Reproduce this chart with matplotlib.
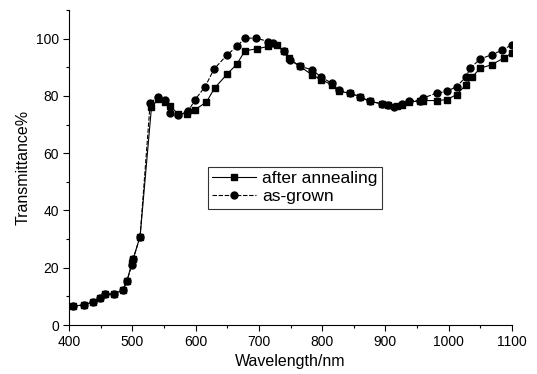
import matplotlib
matplotlib.use("Agg")
import matplotlib.pyplot as plt
from matplotlib.ticker import MultipleLocator

plt.rcParams['font.family'] = ['Liberation Sans', 'DejaVu Sans']

# after annealing (squares)
wl_a = [406, 423, 438, 449, 457, 470, 485, 491, 499, 501, 512, 530, 541, 551, 559,
        572, 586, 599, 617, 630, 650, 665, 678, 697, 715, 728, 739, 747, 765, 784,
        799, 815, 826, 844, 860, 876, 894, 905, 918, 926, 937, 955, 960, 981, 997,
        1013, 1028, 1037, 1050, 1068, 1087, 1100]
val_a = [6.6, 7.0, 8.1, 9.3, 10.8, 10.8, 12.2, 15.2, 21.6, 23.0, 30.9, 76.0, 79.0, 78.0, 76.5,
         73.8, 73.8, 75.2, 77.9, 82.8, 87.7, 91.1, 95.8, 96.5, 97.3, 97.7, 95.6, 93.2, 90.3, 87.4,
         85.7, 83.9, 81.6, 81.0, 79.8, 78.1, 77.3, 76.9, 76.6, 77.0, 78.0, 78.2, 78.4, 78.4, 78.7,
         80.5, 84.0, 86.5, 89.7, 90.9, 93.2, 95.0]

# as-grown (circles)
wl_g = [406, 423, 438, 449, 457, 470, 485, 491, 499, 501, 512, 528, 541, 552, 560,
        572, 588, 599, 615, 629, 649, 665, 678, 696, 715, 723, 739, 749, 765, 784,
        799, 815, 826, 844, 860, 876, 894, 905, 913, 926, 937, 955, 960, 981, 997,
        1013, 1028, 1034, 1050, 1068, 1084, 1100]
val_g = [6.6, 7.0, 8.1, 9.3, 10.8, 10.8, 12.2, 15.2, 21.0, 23.0, 30.9, 77.6, 79.8, 78.7, 74.0,
         73.3, 74.6, 78.7, 83.3, 89.4, 94.2, 97.3, 100.2, 100.2, 99.0, 98.5, 95.6, 92.7, 90.3, 89.2,
         86.5, 84.5, 82.0, 81.0, 79.5, 78.1, 77.3, 76.9, 76.3, 77.3, 78.4, 78.4, 79.3, 81.0, 81.6,
         83.3, 86.8, 89.7, 92.9, 94.4, 95.9, 97.9]

fig = plt.figure(figsize=(5.37, 3.74), dpi=100)
ax = fig.add_axes([0.129, 0.131, 0.824, 0.842])

ax.plot(wl_a, val_a, color='black', marker='s', markersize=4.5, linewidth=0.8,
        label='after annealing')
ax.plot(wl_g, val_g, color='black', marker='o', markersize=5, linewidth=0.8,
        linestyle=(0, (4, 1.5)), label='as-grown')

ax.set_xlim(400, 1100)
ax.set_ylim(0, 110)
ax.xaxis.set_major_locator(MultipleLocator(100))
ax.xaxis.set_minor_locator(MultipleLocator(50))
ax.yaxis.set_major_locator(MultipleLocator(20))
ax.yaxis.set_minor_locator(MultipleLocator(10))
ax.spines['top'].set_visible(False)
ax.spines['right'].set_visible(False)
ax.tick_params(which='major', length=4, width=0.8, labelsize=10)
ax.tick_params(which='minor', length=2, width=0.8)

ax.set_xlabel('Wavelength/nm', fontsize=11.5, labelpad=3)
ax.set_ylabel('Transmittance%', fontsize=11.5)

leg = ax.legend(loc='upper left', bbox_to_anchor=(0.313, 0.502), borderaxespad=0,
                fontsize=12.5, frameon=True, fancybox=False, edgecolor='black',
                handlelength=2.5, borderpad=0.25, labelspacing=0.15, handletextpad=0.4)
leg.get_frame().set_linewidth(0.8)

fig.savefig('out.png', dpi=100)
